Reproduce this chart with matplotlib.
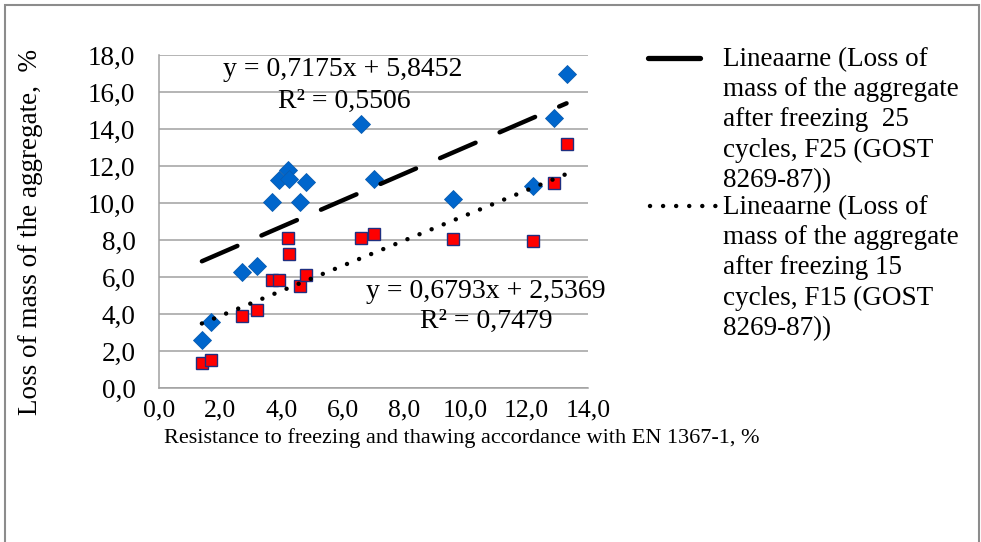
import matplotlib.pyplot as plt
from matplotlib.lines import Line2D
from matplotlib.patches import Rectangle
from matplotlib.ticker import FuncFormatter

plt.rcParams['font.family'] = ['Liberation Serif', 'DejaVu Serif']

# Resistance to freezing and thawing (EN 1367-1), %
resistance = [1.4, 1.7, 2.7, 3.2, 3.7, 3.9, 4.2, 4.25, 4.6, 4.8, 6.6, 7.0, 9.6, 12.2, 12.9, 13.3]
# Loss of mass after 25 cycles (F25)
loss_f25 = [2.6, 3.58, 6.29, 6.61, 10.03, 11.24, 11.78, 11.28, 10.03, 11.15, 14.25, 11.3, 10.2, 10.94, 14.6, 17.0]
# Loss of mass after 15 cycles (F15)
loss_f15 = [1.33, 1.51, 3.91, 4.22, 5.84, 5.84, 8.12, 7.22, 5.51, 6.1, 8.12, 8.32, 8.03, 7.94, 11.06, 13.17]

fit_f25 = (0.7175, 5.8452)
fit_f15 = (0.6793, 2.5369)

legend_f25 = "Lineaarne (Loss of\nmass of the aggregate\nafter freezing  25\ncycles, F25 (GOST\n8269-87))"
legend_f15 = "Lineaarne (Loss of\nmass of the aggregate\nafter freezing 15\ncycles, F15 (GOST\n8269-87))"

W, H = 981, 542

fig = plt.figure(figsize=(W / 100, H / 100), dpi=100)
ax = fig.add_axes([159 / W, 1 - 388 / H, (588 - 159) / W, (388 - 55) / H])

ax.plot(resistance, loss_f25, 'D', color='#0066CC', ms=9.2, mec='#0a5cb0', mew=0.6, zorder=3)
ax.plot(resistance, loss_f15, 's', color='#FF0000', ms=9.3, mec='#1f2f80', mew=1.0, zorder=3)

xs = [min(resistance), max(resistance)]
ax.plot(xs, [fit_f25[0] * x + fit_f25[1] for x in xs], color='black', lw=3.2,
        linestyle=(0, (8.7, 5.9)), dash_capstyle='round', zorder=4)
ax.plot(xs, [fit_f15[0] * x + fit_f15[1] for x in xs], color='black', lw=3.2,
        linestyle=(0, (0.01, 2.93)), dash_capstyle='round', zorder=4)

ax.set_xlim(0, 14)
ax.set_ylim(0, 18)
ax.set_xticks(range(0, 15, 2))
ax.set_yticks(range(0, 19, 2))
fmt = FuncFormatter(lambda v, p: f"{v:.1f}".replace('.', ','))
ax.xaxis.set_major_formatter(fmt)
ax.yaxis.set_major_formatter(fmt)
ax.tick_params(axis='both', length=0)
ax.tick_params(axis='x', pad=8, labelsize=18.5)
ax.tick_params(axis='y', pad=17, labelsize=19.5)
ax.grid(axis='y', color='#a0a0a0', lw=1.1)
ax.set_axisbelow(True)
for s in ['top', 'right']:
    ax.spines[s].set_visible(False)
for s in ['left', 'bottom']:
    ax.spines[s].set_color('#a0a0a0')
    ax.spines[s].set_linewidth(1.1)

# trendline equations
EQ = 20
fig.text(343 / W, 1 - 70 / H, "y = 0,7175x + 5,8452", fontsize=EQ, ha='center', va='center')
fig.text(344 / W, 1 - 101 / H, "R² = 0,5506", fontsize=EQ, ha='center', va='center')
fig.text(486 / W, 1 - 292 / H, "y = 0,6793x + 2,5369", fontsize=EQ, ha='center', va='center')
fig.text(486 / W, 1 - 321 / H, "R² = 0,7479", fontsize=EQ, ha='center', va='center')

# axis titles
fig.text(31 / W, 1 - 232 / H, "Loss of mass of the aggregate,  %", fontsize=19.5,
         rotation=90, ha='center', va='center')
fig.text(462 / W, 1 - 438 / H, "Resistance to freezing and thawing accordance with EN 1367-1, %",
         fontsize=16, ha='center', va='center')

# legend
fig.add_artist(Line2D([648 / W, 700 / W], [1 - 58 / H, 1 - 58 / H], color='black', lw=3.8,
                      solid_capstyle='round', transform=fig.transFigure))
fig.add_artist(Line2D([650 / W, 718 / W], [1 - 206 / H, 1 - 206 / H], color='black', lw=3.2,
                      linestyle=(0, (0.01, 2.93)), dash_capstyle='round', transform=fig.transFigure))
LG = 19.5
fig.text(723 / W, 1 - 47 / H, legend_f25, fontsize=LG, ha='left', va='top', linespacing=1.27)
fig.text(723 / W, 1 - 195 / H, legend_f15, fontsize=LG, ha='left', va='top', linespacing=1.27)

# outer chart frame
fig.add_artist(Rectangle((5 / W, -0.05), (979 - 5) / W, 1.05 - 5 / H, fill=False,
                         edgecolor='#8c8c8c', lw=1.5, transform=fig.transFigure))

fig.savefig('out.png', dpi=100)
